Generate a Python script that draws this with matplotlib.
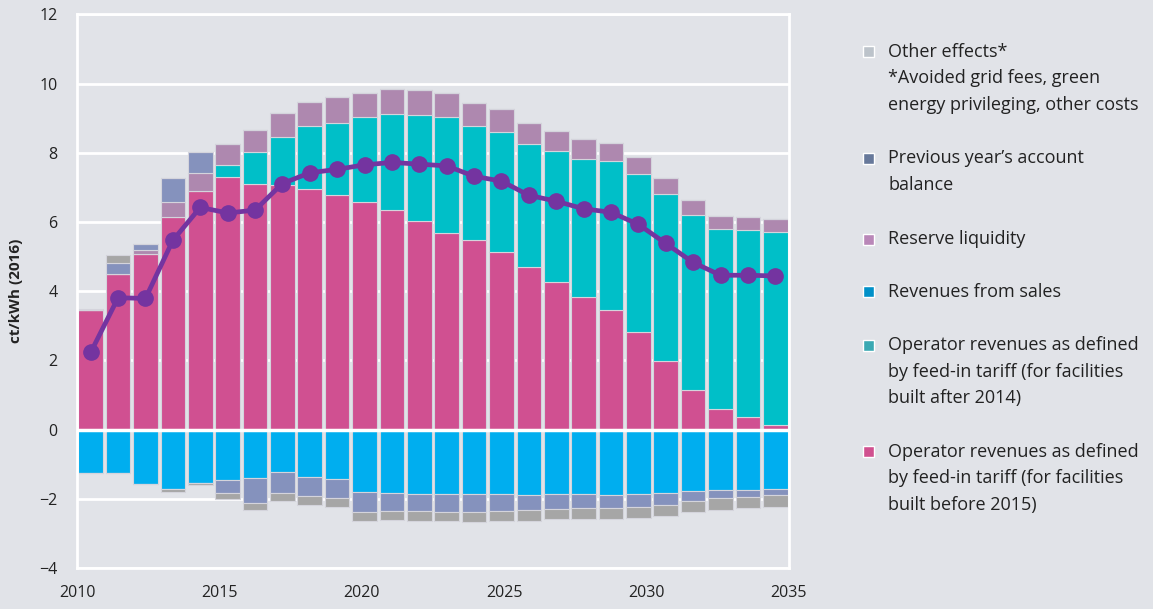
import numpy as np
import matplotlib.pyplot as plt
from matplotlib.patches import Rectangle

plt.rcParams['font.family'] = ['Open Sans', 'DejaVu Sans']

years = list(range(2010, 2036))

# positive stack (ct/kWh)
pink = [3.45, 4.51, 5.06, 6.14, 6.89, 7.29, 7.10, 7.06, 6.95, 6.77, 6.59, 6.34, 6.03,
        5.68, 5.48, 5.12, 4.71, 4.26, 3.84, 3.47, 2.82, 1.98, 1.15, 0.59, 0.36, 0.12]
teal = [0, 0, 0, 0, 0, 0.36, 0.91, 1.39, 1.81, 2.10, 2.44, 2.78, 3.05,
        3.36, 3.29, 3.48, 3.54, 3.78, 3.97, 4.28, 4.56, 4.83, 5.06, 5.21, 5.41, 5.60]
reserve = [0, 0, 0.12, 0.44, 0.53, 0.61, 0.65, 0.70, 0.72, 0.73, 0.70, 0.73, 0.72,
           0.69, 0.66, 0.65, 0.60, 0.59, 0.59, 0.54, 0.51, 0.46, 0.43, 0.38, 0.38, 0.37]
prev_pos = [0, 0.31, 0.19, 0.69, 0.60] + [0] * 21
other_pos = [0.03, 0.22] + [0] * 24

# negative stack
sales = [-1.24, -1.26, -1.57, -1.71, -1.53, -1.46, -1.41, -1.23, -1.37, -1.43, -1.81, -1.83, -1.85,
         -1.87, -1.87, -1.87, -1.89, -1.87, -1.87, -1.89, -1.87, -1.83, -1.78, -1.75, -1.75, -1.71]
prev_neg = [0, 0, 0, 0, 0, -0.38, -0.70, -0.61, -0.55, -0.56, -0.57, -0.52, -0.50,
            -0.51, -0.51, -0.48, -0.44, -0.43, -0.41, -0.39, -0.37, -0.34, -0.28, -0.24, -0.19, -0.19]
other_neg = [0, 0, 0, -0.08, -0.06, -0.17, -0.20, -0.21, -0.25, -0.25, -0.26, -0.26, -0.28,
             -0.27, -0.28, -0.28, -0.30, -0.29, -0.31, -0.31, -0.32, -0.32, -0.31, -0.32, -0.33, -0.33]

surcharge = [2.23, 3.81, 3.79, 5.47, 6.42, 6.26, 6.34, 7.11, 7.42, 7.52, 7.65, 7.72, 7.67,
             7.62, 7.32, 7.18, 6.77, 6.60, 6.38, 6.28, 5.93, 5.38, 4.83, 4.46, 4.46, 4.44]

bg = '#e1e3e8'
c_pink = '#d05091'
c_teal = '#00bfc8'
c_res = '#ae88af'
c_prev = '#8592bd'
c_other = '#a6a6a6'
c_sales = '#00aeef'
c_line = '#7434a0'

fig = plt.figure(figsize=(11.53, 6.09), dpi=100, facecolor=bg)
ax = fig.add_axes([0.0668, 0.0673, 0.6175, 0.9092])
ax.set_facecolor(bg)

n = len(years)
step = 25 / n
x = 2010 + (np.arange(n) + 0.5) * step
w = step * 0.9
ec = '#d4d4dc'

bottom = np.zeros(n)
for vals, col in [(pink, c_pink), (teal, c_teal), (reserve, c_res), (prev_pos, c_prev), (other_pos, c_other)]:
    ax.bar(x, vals, w, bottom=bottom, color=col, edgecolor=ec, linewidth=0.8, zorder=2)
    bottom += np.array(vals)

bottom = np.zeros(n)
for vals, col in [(sales, c_sales), (prev_neg, c_prev), (other_neg, c_other)]:
    ax.bar(x, vals, w, bottom=bottom, color=col, edgecolor=ec, linewidth=0.8, zorder=2)
    bottom += np.array(vals)

ax.axhline(0, color='white', lw=2.5, zorder=3)
ax.plot(x, surcharge, color=c_line, lw=3.4, marker='o', markersize=11, zorder=4)

ax.set_xlim(2010, 2035)
ax.set_ylim(-4, 12)
ax.set_xticks(range(2010, 2036, 5))
ax.set_yticks(range(-4, 13, 2))
ax.yaxis.grid(True, color='white', lw=2)
ax.set_axisbelow(True)
ax.tick_params(length=0, labelsize=11.5, colors='#222222')
ax.tick_params(axis='y', pad=14)
ax.tick_params(axis='x', pad=12)
for s in ax.spines.values():
    s.set_color('white')
    s.set_linewidth(2)
ax.set_ylabel('ct/kWh (2016)', fontsize=11, fontweight='bold', color='#222222', labelpad=12)

# legend drawn by hand so the swatch sits next to the first line
legend = [
    ('#bcc3ca', ['Other effects*', '*Avoided grid fees, green', 'energy privileging, other costs'], 51.7),
    ('#66789a', ['Previous year\u2019s account', 'balance'], 158.3),
    ('#b987b8', ['Reserve liquidity'], 239.3),
    ('#0090c8', ['Revenues from sales'], 291.7),
    ('#3aa9b3', ['Operator revenues as defined', 'by feed-in tariff (for facilities', 'built after 2014)'], 345),
    ('#d0508f', ['Operator revenues as defined', 'by feed-in tariff (for facilities', 'built before 2015)'], 451.7),
]
W, H = 1153, 609
for col, lines, ypix in legend:
    fig.patches.append(Rectangle((862.5 / W, 1 - (ypix + 5.5) / H), 11 / W, 11 / H,
                                 transform=fig.transFigure, facecolor=col,
                                 edgecolor='white', linewidth=1))
    for k, t in enumerate(lines):
        fig.text(888 / W, 1 - (ypix + k * 26.7) / H, t, fontsize=13, color='#222222', va='center')

fig.savefig('out.png', dpi=100, facecolor=bg)
